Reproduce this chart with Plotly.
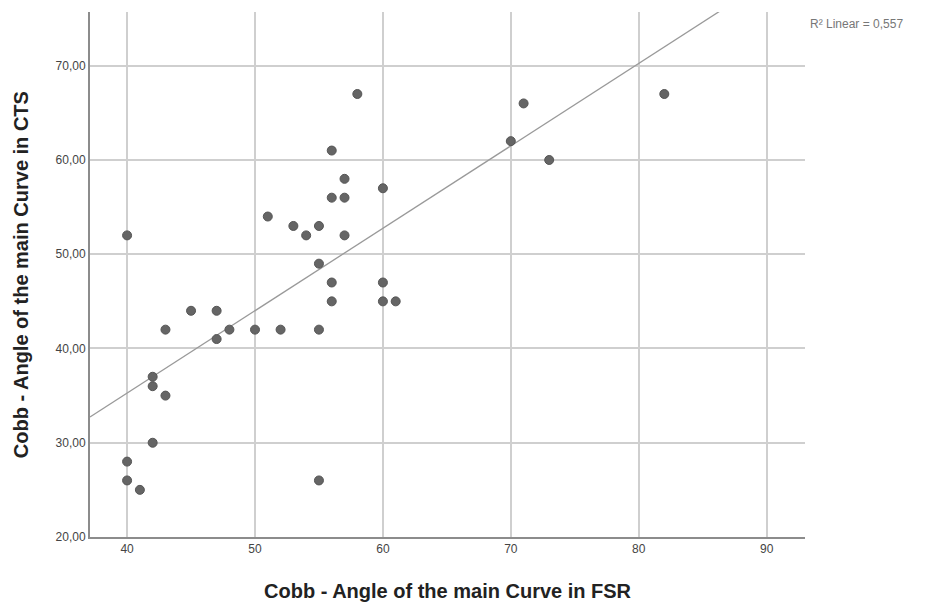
import numpy as np
import plotly.graph_objects as go

# Cobb angle in FSR (x) vs CTS (y)
fsr = [40, 40, 40, 41, 42, 42, 42, 43, 43, 45, 47, 47, 48, 50, 51, 52, 53, 54, 55,
       55, 55, 55, 56, 56, 56, 56, 57, 57, 57, 58, 60, 60, 60, 61, 70, 71, 73, 82]
cts = [52, 28, 26, 25, 37, 36, 30, 42, 35, 44, 44, 41, 42, 42, 54, 42, 53, 52, 53,
       49, 42, 26, 61, 56, 47, 45, 58, 56, 52, 67, 57, 47, 45, 45, 62, 66, 60, 67]

x_ticks = [40, 50, 60, 70, 80, 90]
x_ticklabels = ["40", "50", "60", "70", "80", "90"]
y_ticks = [20, 30, 40, 50, 60, 70]
y_ticklabels = ["20,00", "30,00", "40,00", "50,00", "60,00", "70,00"]
r2_label = "R² Linear = 0,557"
x_title = "Cobb - Angle of the main Curve in FSR"
y_title = "Cobb - Angle of the main Curve in CTS"

x_range = [37.1, 93.0]
y_range = [20.0, 75.7]

slope, intercept = np.polyfit(fsr, cts, 1)
fit_x = np.array(x_range)
fit_y = slope * fit_x + intercept

fig = go.Figure()
fig.add_trace(go.Scatter(
    x=fit_x, y=fit_y, mode="lines",
    line=dict(color="#9a9a9a", width=1.3), hoverinfo="skip", showlegend=False))
fig.add_trace(go.Scatter(
    x=fsr, y=cts, mode="markers",
    marker=dict(size=9, color="#656565", line=dict(color="#555555", width=1)),
    showlegend=False))

fig.update_layout(
    width=926, height=602,
    margin=dict(l=90, r=121, t=12, b=65),
    paper_bgcolor="white", plot_bgcolor="white",
    font=dict(family="Liberation Sans, Arial, sans-serif", color="#333333"),
    xaxis=dict(
        range=x_range, tickvals=x_ticks, ticktext=x_ticklabels,
        showgrid=True, gridcolor="#cfcfcf", gridwidth=1.5,
        showline=True, linecolor="#8c8c8c", linewidth=2,
        zeroline=False, ticks="", tickfont=dict(size=12, color="#444444"),
    ),
    yaxis=dict(
        range=y_range, tickvals=y_ticks, ticktext=y_ticklabels,
        showgrid=True, gridcolor="#cfcfcf", gridwidth=1.5,
        showline=True, linecolor="#8c8c8c", linewidth=2,
        zeroline=False, ticks="", tickfont=dict(size=12, color="#444444"),
    ),
    annotations=[
        dict(text=r2_label, xref="paper", yref="paper", x=1.004, y=0.978,
             xanchor="left", yanchor="middle", showarrow=False,
             font=dict(size=12, color="#777777")),
        dict(text="<b>" + x_title + "</b>", xref="paper", yref="paper",
             x=0.5, y=-0.102, xanchor="center", yanchor="middle",
             showarrow=False, font=dict(size=20, color="#222222")),
        dict(text="<b>" + y_title + "</b>", xref="paper", yref="paper",
             x=-0.097, y=0.5, xanchor="center", yanchor="middle",
             textangle=-90, showarrow=False,
             font=dict(size=20, color="#222222")),
    ],
)

fig.write_html("out.html")
